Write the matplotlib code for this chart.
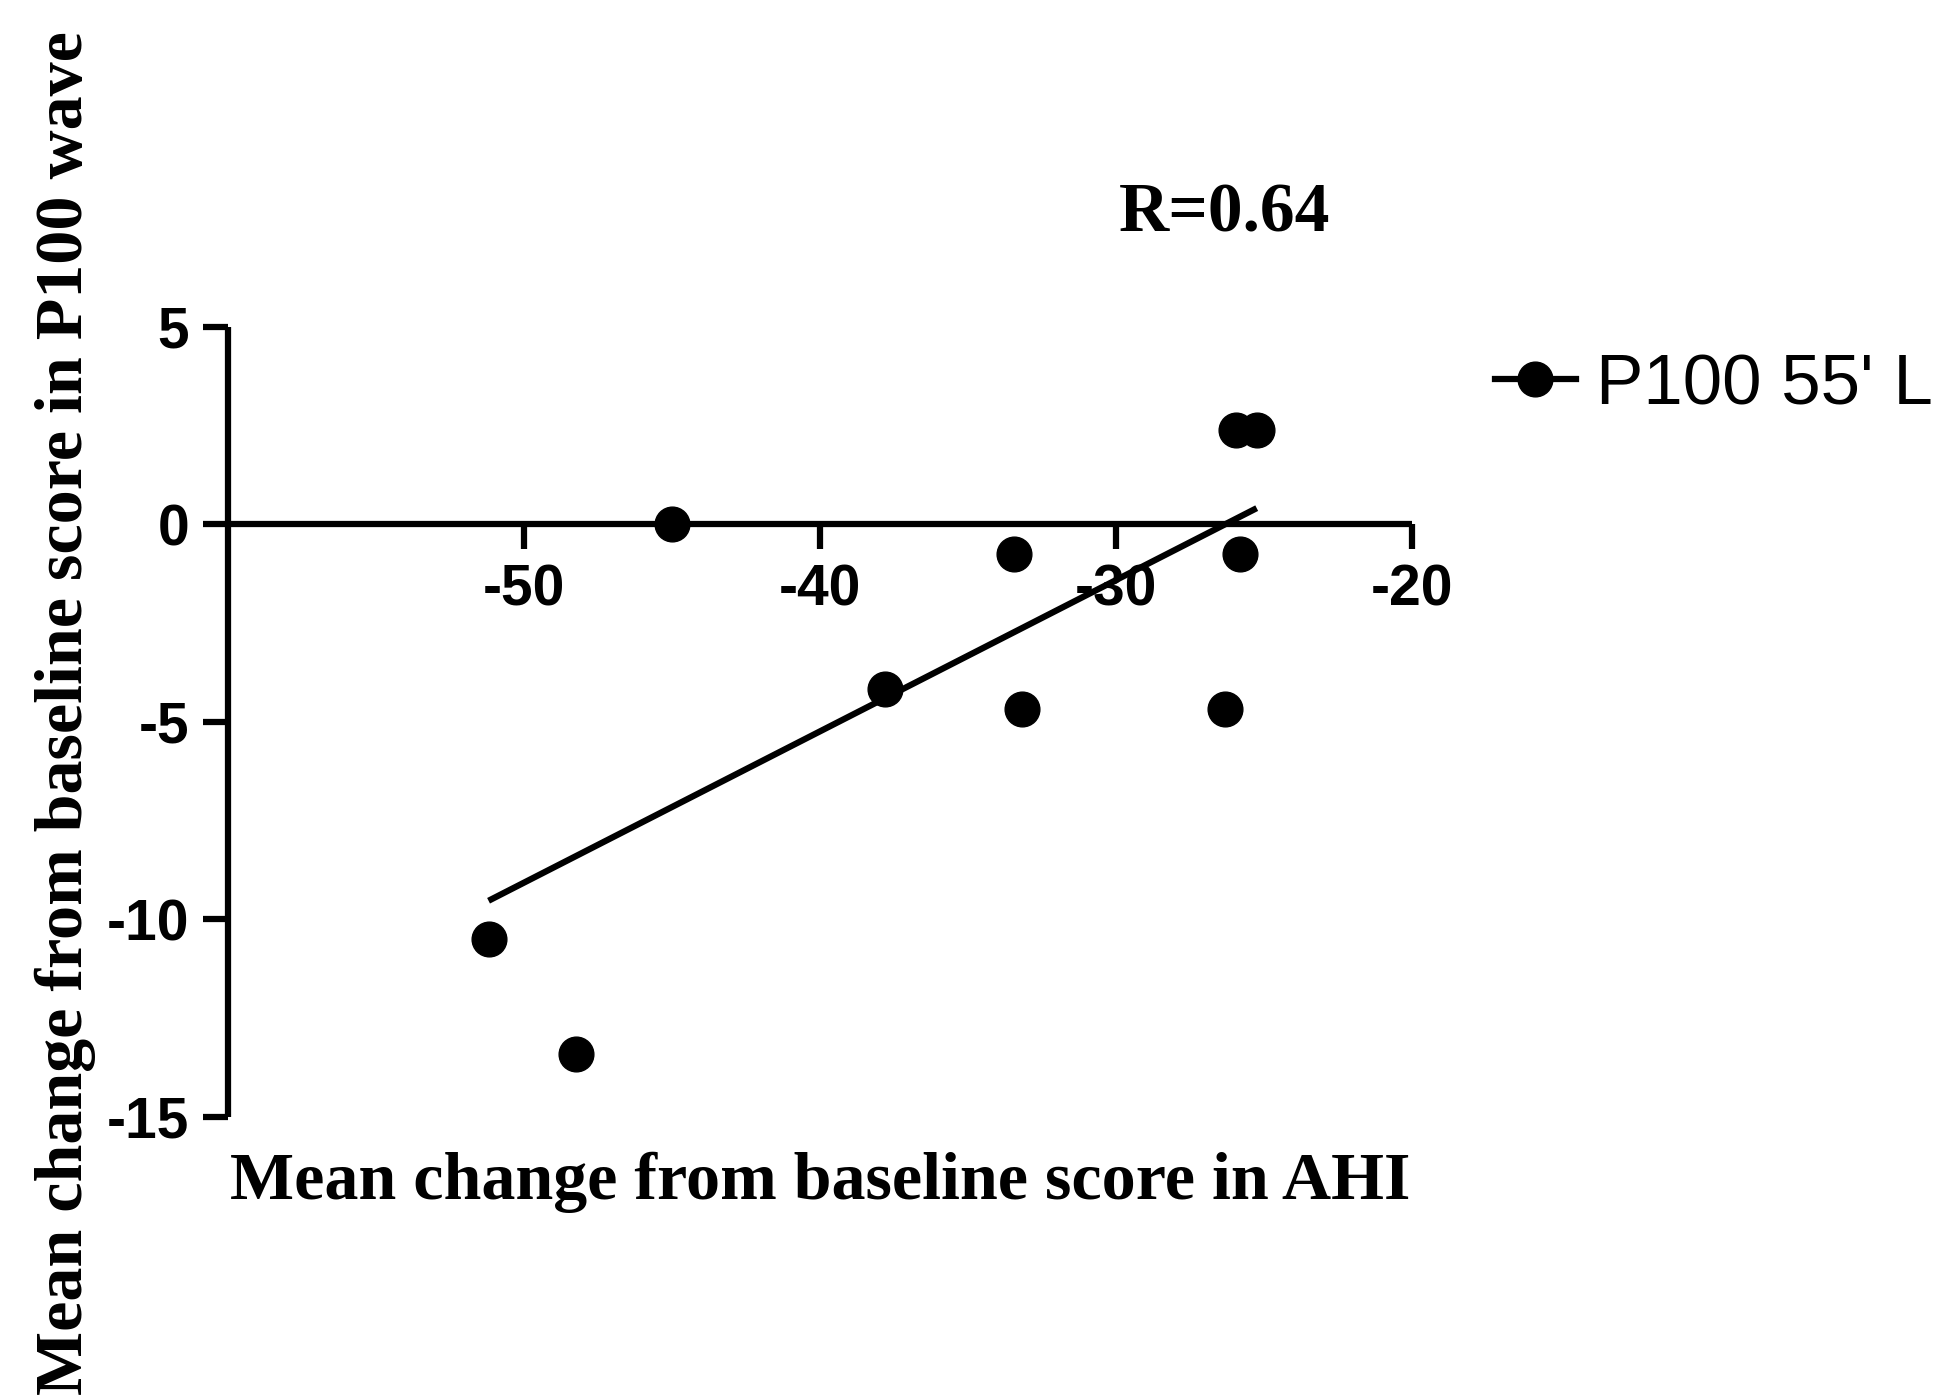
import numpy as np
import matplotlib
matplotlib.use("Agg")
import matplotlib.pyplot as plt
from matplotlib.lines import Line2D

# values
ahi_change = [-45.0, -51.2, -48.25, -37.8, -33.46, -33.17, -26.33, -25.83, -25.96, -25.25]
p100_change = [0.0, -10.5, -13.4, -4.16, -0.75, -4.66, -4.66, -0.75, 2.4, 2.4]
x_ticks = [-50, -40, -30, -20]
y_ticks = [5, 0, -5, -10, -15]
series_label = "P100 55' L"
r_text = "R=0.64"
x_label = "Mean change from baseline score in AHI"
y_label = "Mean change from baseline score in P100 wave"

plt.rcParams["axes.unicode_minus"] = False
sans = "Liberation Sans"
serif = "Liberation Serif"
lw = 4.5
ms = 25

fig = plt.figure(figsize=(19.36, 13.99), dpi=100)
ax = fig.add_axes([0.1178, 0.2016, 0.6116, 0.5647])

ax.plot(ahi_change, p100_change, "o", color="black", markersize=ms, ls="none", clip_on=False)

# least squares line over the data range
slope, intercept = np.polyfit(ahi_change, p100_change, 1)
fit_x = np.array([min(ahi_change), max(ahi_change)])
ax.plot(fit_x, slope * fit_x + intercept, color="black", lw=lw, solid_capstyle="butt")

ax.set_xlim(-60, -20)
ax.set_ylim(-15, 5)
ax.spines["top"].set_visible(False)
ax.spines["right"].set_visible(False)
ax.spines["bottom"].set_position(("data", 0))
for s in ("left", "bottom"):
    ax.spines[s].set_linewidth(lw)
    ax.spines[s].set_capstyle("butt")

ax.set_xticks(x_ticks)
ax.set_yticks(y_ticks)
ax.tick_params(length=18, width=lw, pad=10)
for lab in ax.get_xticklabels() + ax.get_yticklabels():
    lab.set_fontfamily(sans)
    lab.set_fontweight("bold")
    lab.set_fontsize(41)

fig.text(0.4235, 0.155, x_label, family=serif, weight="bold", fontsize=49,
         ha="center", va="center")
fig.text(0.034, 0.49, y_label, family=serif, weight="bold", fontsize=49,
         ha="center", va="center", rotation=90)
fig.text(0.6327, 0.847, r_text, family=serif, weight="bold", fontsize=50,
         ha="center", va="center")

handle = Line2D([], [], color="black", marker="o", markersize=ms, lw=lw)
fig.legend([handle], [series_label], loc="center left",
           bbox_to_anchor=(0.772, 0.724), frameon=False, borderpad=0,
           borderaxespad=0, handlelength=1.15, handletextpad=0.28, numpoints=1,
           prop={"family": sans, "size": 51})

fig.savefig("out.png", dpi=100, facecolor="white")
